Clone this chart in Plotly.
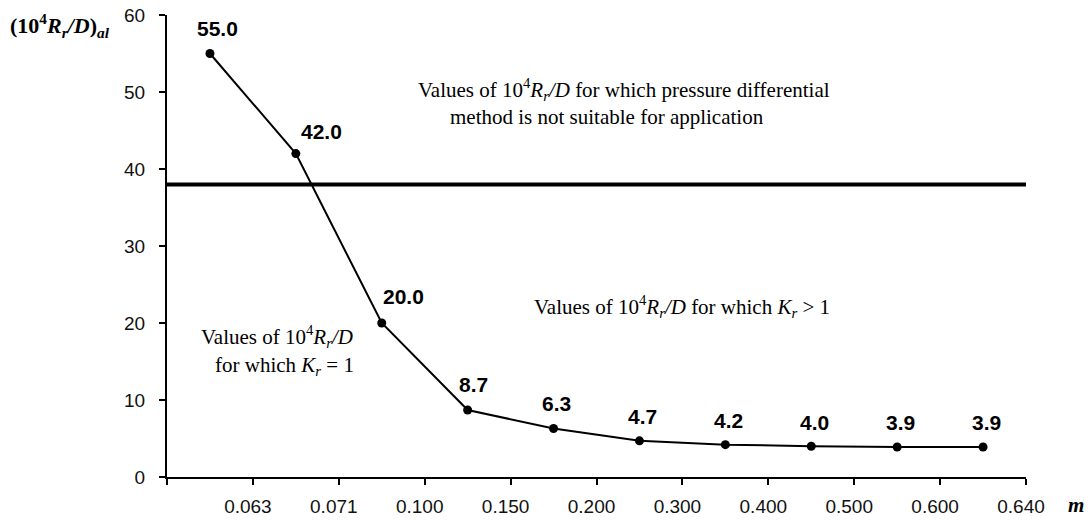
import plotly.graph_objects as go

# ---- data ----
x_tick_labels = ["0.063", "0.071", "0.100", "0.150", "0.200", "0.300", "0.400", "0.500", "0.600", "0.640"]
point_positions = [0.5, 1.5, 2.5, 3.5, 4.5, 5.5, 6.5, 7.5, 8.5, 9.5]
values = [55.0, 42.0, 20.0, 8.7, 6.3, 4.7, 4.2, 4.0, 3.9, 3.9]
limit_value = 38
y_ticks = [0, 10, 20, 30, 40, 50, 60]

# ---- styling ----
label_xshift = [8, 26, 22, 6, 3, 3, 3, 3, 3, 3]
label_yshift = [25, 22, 27, 26, 25, 24, 24, 24, 24, 24]
serif = "Liberation Serif, Times New Roman, serif"
sans = "Liberation Sans, Arial, sans-serif"

fig = go.Figure()
fig.add_trace(go.Scatter(
    x=point_positions, y=values, mode="lines+markers",
    line=dict(color="black", width=2),
    marker=dict(color="black", size=9),
    showlegend=False, hoverinfo="skip",
))

fig.add_shape(type="line", xref="paper", x0=0, x1=1, yref="y", y0=limit_value, y1=limit_value,
              line=dict(color="black", width=4))

annotations = []
for xv, yv, dx, dy in zip(point_positions, values, label_xshift, label_yshift):
    annotations.append(dict(x=xv, y=yv, text=f"<b>{yv:.1f}</b>", showarrow=False,
                            xshift=dx, yshift=dy, font=dict(family=sans, size=21, color="black")))

rr = "10<sup>4</sup><i>R<sub>r</sub>/D</i>"
tf = dict(family=serif, size=21, color="black")
annotations += [
    dict(x=5.32, y=50.3, text=f"Values of {rr} for which pressure differential", showarrow=False, font=tf),
    dict(x=5.12, y=46.8, text="method is not suitable for application", showarrow=False, font=tf),
    dict(x=6.0, y=22.2, text=f"Values of {rr} for which <i>K<sub>r</sub></i> > 1", showarrow=False, font=tf),
    dict(x=1.28, y=18.2, text=f"Values of {rr}", showarrow=False, font=tf),
    dict(x=1.37, y=14.4, text="for which <i>K<sub>r</sub></i> = 1", showarrow=False, font=tf),
    dict(xref="paper", yref="paper", x=-0.125, y=0.978, xanchor="center", yanchor="middle",
         text=f"<b>(10<sup>4</sup><i>R<sub>r</sub>/D</i>)<sub><i>al</i></sub></b>", showarrow=False,
         font=dict(family=serif, size=22, color="black")),
    dict(xref="paper", yref="paper", x=1.058, y=-0.06, xanchor="center", yanchor="middle",
         text="<b><i>m</i></b>", showarrow=False,
         font=dict(family=serif, size=21, color="black")),
]

# page body has an 8px margin, so the figure is sized to sit inside the 1092x523 window
fig.update_layout(
    width=1084, height=515,
    margin=dict(l=159, r=66, t=7, b=46, autoexpand=False),
    plot_bgcolor="white", paper_bgcolor="white",
    annotations=annotations,
    xaxis=dict(range=[0, 10], tickmode="array", tickvals=list(range(0, 11)),
               ticktext=[""] + x_tick_labels, showline=True, linecolor="black", linewidth=2,
               ticks="outside", ticklen=6, tickwidth=2, tickcolor="black", showgrid=False,
               zeroline=False, tickfont=dict(family=sans, size=19, color="#111"),
               ticklabelstandoff=5, ticklabelshift=-5, automargin=False,
               ticklabeloverflow="allow"),
    yaxis=dict(range=[0, 60], tickmode="array", tickvals=y_ticks, showline=True,
               linecolor="black", linewidth=2, ticks="outside", ticklen=6, tickwidth=2,
               tickcolor="black", showgrid=False, zeroline=False,
               tickfont=dict(family=sans, size=19, color="#111"), ticklabelstandoff=10,
               automargin=False, ticklabeloverflow="allow"),
)

fig.write_html("out.html")
